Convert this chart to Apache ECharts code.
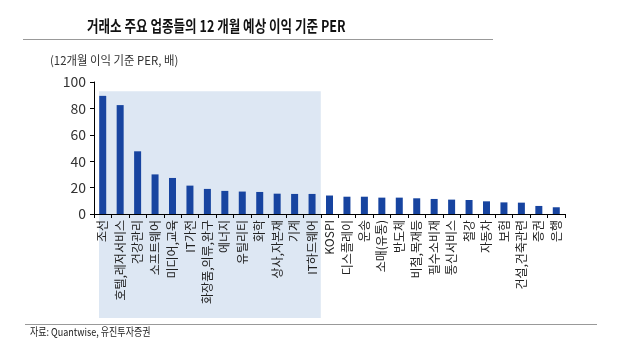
<!DOCTYPE html>
<html>
<head>
<meta charset="utf-8">
<script src="https://cdn.jsdelivr.net/npm/echarts@6/dist/echarts.min.js"></script>
<style>
  html, body { margin: 0; padding: 0; background: #fff; }
  #chart { width: 632px; height: 352px; }
</style>
</head>
<body>
<div id="chart"></div>
<script>
// 업종 이름 (x축)
var categories = ['조선', '호텔,레저서비스', '건강관리', '소프트웨어', '미디어,교육', 'IT가전',
    '화장품,의류,완구', '에너지', '유틸리티', '화학', '상사,자본재', '기계', 'IT하드웨어',
    'KOSPI', '디스플레이', '운송', '소매(유통)', '반도체', '비철,목재등', '필수소비재',
    '통신서비스', '철강', '자동차', '보험', '건설,건축관련', '증권', '은행']
// 12개월 이익 기준 PER (배)
var perValues = [89.5, 82.5, 47.5, 30, 27.3, 21.5, 19, 17.5, 17, 16.7, 15.4, 15.2, 15.2,
    14, 13.1, 13.1, 12.4, 12.4, 11.9, 11.4, 10.9, 10.6, 9.6, 8.8, 8.6, 6.1, 5.1]
var yTicks = [0, 20, 40, 60, 80, 100]
// 음영 구간: 처음 13개 업종 (KOSPI보다 높은 업종)
var highlightCount = 13
var highlightTop = 93

var font = '"Noto Sans CJK KR", "Noto Sans", sans-serif'
var chart = echarts.init(document.getElementById('chart'))

chart.setOption({
    animation: false,
    grid: {
        left: 94,
        right: 67,
        top: 82,
        bottom: 138
    },
    xAxis: {
        type: 'category',
        data: categories,
        axisLine: { lineStyle: { color: '#000', width: 1 } },
        axisTick: { show: true, length: 4, lineStyle: { color: '#000' } },
        axisLabel: {
            rotate: 90,
            interval: 0,
            margin: 6,
            fontSize: 12,
            fontFamily: font,
            color: '#222'
        }
    },
    yAxis: {
        type: 'value',
        min: yTicks[0],
        max: yTicks[yTicks.length - 1],
        interval: 20,
        splitLine: { show: false },
        axisLine: { show: true, lineStyle: { color: '#000' } },
        axisTick: { show: true, length: 4, lineStyle: { color: '#000' } },
        axisLabel: {
            fontSize: 14,
            fontFamily: font,
            color: '#333',
            margin: 8
        }
    },
    series: [{
        type: 'bar',
        data: perValues,
        barWidth: 7,
        itemStyle: { color: '#1744a0' }
    }]
})

// 음영 박스와 제목 등은 축 위치를 읽어서 그림
var c0 = chart.convertToPixel({ xAxisIndex: 0 }, 0)
var c1 = chart.convertToPixel({ xAxisIndex: 0 }, 1)
var band = c1 - c0
var cEnd = chart.convertToPixel({ xAxisIndex: 0 }, highlightCount - 1)
var yTop = chart.convertToPixel({ yAxisIndex: 0 }, highlightTop)
var boxLeft = c0 - band / 2 + 5
var boxRight = cEnd + band / 2

chart.setOption({
    graphic: [
        {
            type: 'rect',
            z: -10,
            silent: true,
            shape: { x: boxLeft, y: yTop, width: boxRight - boxLeft, height: 318 - yTop },
            style: { fill: '#dde7f3' }
        },
        {
            type: 'text',
            left: 87,
            top: 18,
            scaleX: 0.81,
            style: {
                text: '거래소 주요 업종들의 12 개월 예상 이익 기준 PER',
                font: 'bold 15.5px ' + font,
                fill: '#111'
            }
        },
        {
            type: 'line',
            shape: { x1: 23, y1: 39.5, x2: 493, y2: 39.5 },
            style: { stroke: '#999', lineWidth: 1 }
        },
        {
            type: 'text',
            left: 50,
            top: 54,
            scaleX: 0.95,
            style: {
                text: '(12개월 이익 기준 PER, 배)',
                font: '12px ' + font,
                fill: '#333'
            }
        },
        {
            type: 'line',
            shape: { x1: 25, y1: 324.5, x2: 597, y2: 324.5 },
            style: { stroke: '#999', lineWidth: 1 }
        },
        {
            type: 'text',
            left: 30,
            top: 326,
            scaleX: 0.82,
            style: {
                text: '자료: Quantwise, 유진투자증권',
                font: '11px ' + font,
                fill: '#222'
            }
        }
    ]
})
</script>
</body>
</html>
